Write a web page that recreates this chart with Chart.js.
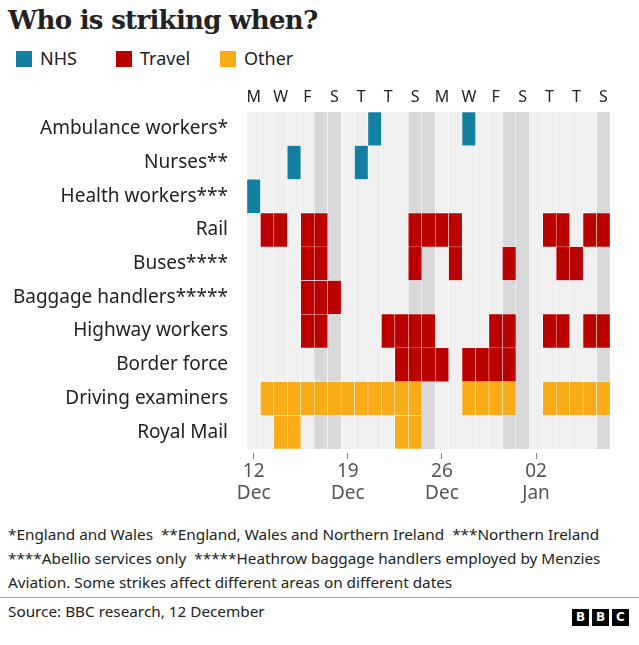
<!DOCTYPE html>
<html>
<head>
<meta charset="utf-8">
<script src="https://cdn.jsdelivr.net/npm/chart.js@4/dist/chart.umd.min.js"></script>
<style>
  body { margin: 0; background: #fff; font-family: "Noto Sans", sans-serif; color: #222; }
  #wrap { position: relative; width: 639px; height: 645px; overflow: hidden; }
  #title { position: absolute; left: 8px; top: 5px; font: bold 26px "DejaVu Serif", serif; color: #222; letter-spacing: -0.7px; }
  .key { position: absolute; top: 47px; font-size: 18px; line-height: 22px; }
  .key span { display: inline-block; width: 16px; height: 16px; vertical-align: -2px; margin-right: 8px; }
  #chartBox { position: absolute; left: 0; top: 80px; width: 639px; height: 430px; }
  #notes { position: absolute; left: 8px; top: 522px; font-size: 15.3px; line-height: 24px; color: #222; }
  #rule { position: absolute; left: 0; top: 597px; width: 639px; height: 1px; background: #aaa; }
  #source { position: absolute; left: 8px; top: 601px; font-size: 15.3px; color: #222; }
  #logo { position: absolute; left: 572px; top: 604px; }
  #logo b { display: inline-block; width: 17px; height: 17px; background: #000; color: #fff; font: bold 12px "DejaVu Sans", sans-serif; text-align: center; line-height: 17px; margin-right: 3px; }
</style>
</head>
<body>
<div id="wrap">
  <div id="title">Who is striking when?</div>
  <div class="key" style="left:16px"><span style="background:#1380a1"></span>NHS</div>
  <div class="key" style="left:116px"><span style="background:#bb0000"></span>Travel</div>
  <div class="key" style="left:220px"><span style="background:#faab18"></span>Other</div>
  <div id="chartBox"><canvas id="Chart" width="639" height="430"></canvas></div>
  <div id="notes">*England and Wales &nbsp;**England, Wales and Northern Ireland &nbsp;***Northern Ireland<br>****Abellio services only &nbsp;*****Heathrow baggage handlers employed by Menzies<br>Aviation. Some strikes affect different areas on different dates</div>
  <div id="rule"></div>
  <div id="source">Source: BBC research, 12 December</div>
  <div id="logo"><b>B</b><b>B</b><b>C</b></div>
</div>
<script>
// days from Mon 12 Dec to Sat 7 Jan
const days = ["12 Dec","13 Dec","14 Dec","15 Dec","16 Dec","17 Dec","18 Dec","19 Dec","20 Dec","21 Dec","22 Dec","23 Dec","24 Dec","25 Dec","26 Dec","27 Dec","28 Dec","29 Dec","30 Dec","31 Dec","01 Jan","02 Jan","03 Jan","04 Jan","05 Jan","06 Jan","07 Jan"];
const topLabels = ["M","","W","","F","","S","","T","","T","","S","","M","","W","","F","","S","","T","","T","","S"];
const bottomLabels = [["12","Dec"],"","","","","","",["19","Dec"],"","","","","","",["26","Dec"],"","","","","","",["02","Jan"],"","","","","",""];
const weekendDays = [5, 6, 12, 13, 19, 20, 26];

const rowLabels = ["Ambulance workers*","Nurses**","Health workers***","Rail","Buses****","Baggage handlers*****","Highway workers","Border force","Driving examiners","Royal Mail"];
const rowGroups = ["NHS","NHS","NHS","Travel","Travel","Travel","Travel","Travel","Other","Other"];

// strike days, as index into days[]
const ambulance = [9, 16];
const nurses = [3, 8];
const health = [0];
const rail = [1, 2, 4, 5, 12, 13, 14, 15, 22, 23, 25, 26];
const buses = [4, 5, 12, 15, 19, 23, 24];
const baggage = [4, 5, 6];
const highway = [4, 5, 10, 11, 12, 13, 18, 19, 22, 23, 25, 26];
const border = [11, 12, 13, 14, 16, 17, 18, 19];
const driving = [1, 2, 3, 4, 5, 6, 7, 8, 9, 10, 11, 12, 16, 17, 18, 19, 22, 23, 24, 25, 26];
const royalMail = [2, 3, 11, 12];
const strikes = [ambulance, nurses, health, rail, buses, baggage, highway, border, driving, royalMail];

const groupColors = { NHS: "#1380a1", Travel: "#bb0000", Other: "#faab18" };

const datasets = [{
  label: "bg",
  data: days.map(() => [-0.5, rowLabels.length - 0.5]),
  backgroundColor: days.map((d, i) => weekendDays.includes(i) ? "#d9d9d9" : "#f0f0f0"),
  borderColor: "#fff",
  borderWidth: { left: 0.5, right: 0.5, top: 0, bottom: 0 },
  borderSkipped: false,
  grouped: false,
  order: 2
}];
strikes.forEach((s, r) => {
  datasets.push({
    label: rowLabels[r],
    data: days.map((d, i) => s.includes(i) ? [r - 0.5, r + 0.5] : null),
    backgroundColor: groupColors[rowGroups[r]],
    borderColor: "#fff",
    borderWidth: 0.5,
    borderSkipped: false,
    grouped: false,
    order: 1
  });
});

const ctx = document.getElementById("Chart").getContext("2d");
const myChart = new Chart(ctx, {
  type: "bar",
  data: { labels: days, datasets: datasets },
  options: {
    responsive: false,
    animation: false,
    devicePixelRatio: 1,
    barPercentage: 1,
    categoryPercentage: 1,
    layout: { padding: { left: 0, right: 29, top: 0, bottom: 0 } },
    plugins: { legend: { display: false }, tooltip: { enabled: false } },
    scales: {
      x: {
        type: "category",
        position: "bottom",
        offset: true,
        border: { display: false },
        grid: {
          offset: false,
          drawOnChartArea: false,
          tickLength: 10,
          tickBorderDash: [0, 4, 6, 20],
          color: (c) => bottomLabels[c.index] ? "#888" : "rgba(0,0,0,0)",
          tickColor: (c) => bottomLabels[c.index] ? "#888" : "rgba(0,0,0,0)"
        },
        ticks: {
          autoSkip: false, maxRotation: 0, padding: 2,
          color: "#555", font: { family: "Noto Sans", size: 19, lineHeight: 1.13 },
          callback: (v, i) => bottomLabels[i]
        },
        afterFit: (s) => { s.height = 61; }
      },
      xTop: {
        type: "category",
        position: "top",
        labels: topLabels,
        offset: true,
        border: { display: false },
        grid: { display: false, drawTicks: false },
        ticks: {
          autoSkip: false, maxRotation: 0, padding: 5,
          color: "#222", font: { family: "Noto Sans", size: 16 }
        },
        afterFit: (s) => { s.height = 32; }
      },
      y: {
        type: "linear",
        min: -0.5,
        max: rowLabels.length - 0.5,
        reverse: true,
        border: { display: false },
        grid: { display: false, drawTicks: false },
        afterBuildTicks: (s) => { s.ticks = rowLabels.map((l, i) => ({ value: i })); },
        ticks: {
          autoSkip: false, padding: 19,
          color: "#222", font: { family: "Noto Sans", size: 19 },
          callback: (v) => rowLabels[v]
        },
        afterFit: (s) => { s.width = 247; }
      }
    }
  }
});
</script>
</body>
</html>
